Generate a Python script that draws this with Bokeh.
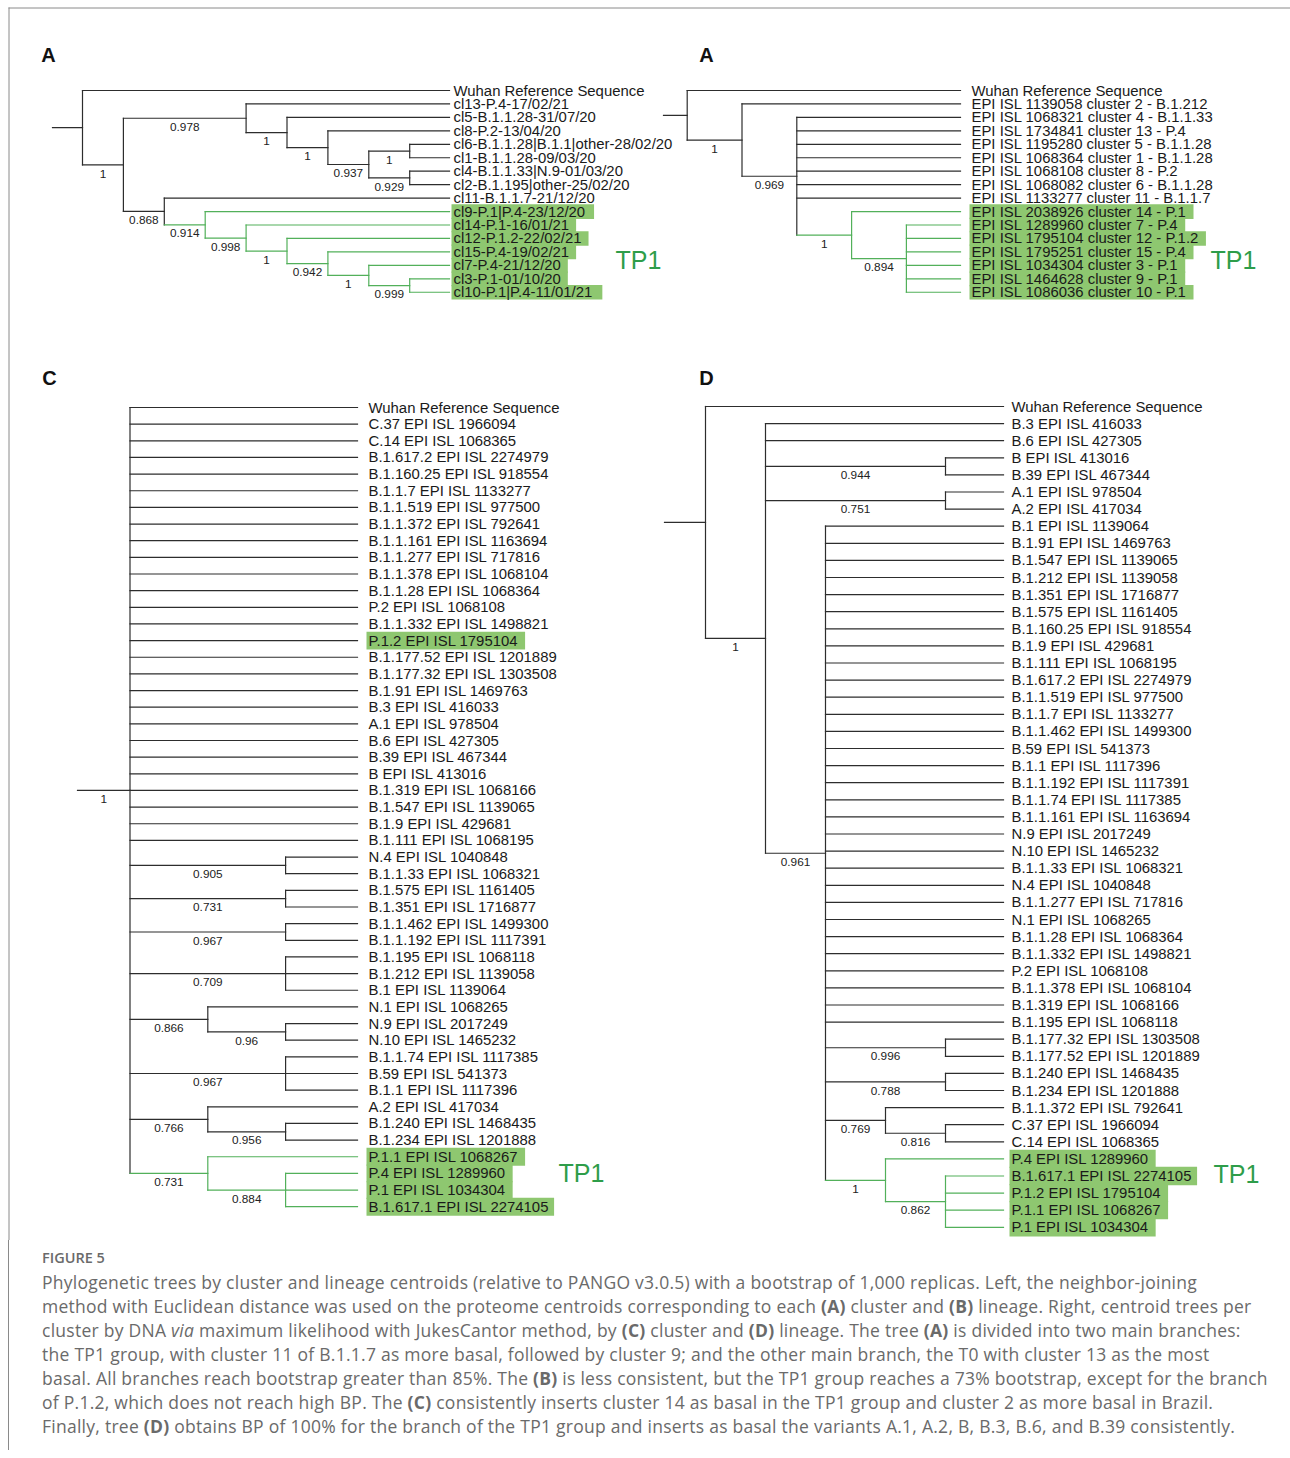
from bokeh.plotting import figure
from bokeh.models import Range1d, Div, ColumnDataSource
from bokeh.layouts import column
from bokeh.core.properties import value
from bokeh.embed import file_html
from bokeh.resources import INLINE

# ---------------------------------------------------------------- data
# Trees as Newick strings (topology + bootstrap support as node labels)
TREE_A = (
    "('Wuhan Reference Sequence',"
    "(('cl13-P.4-17/02/21',('cl5-B.1.1.28-31/07/20',('cl8-P.2-13/04/20',"
    "(('cl6-B.1.1.28|B.1.1|other-28/02/20','cl1-B.1.1.28-09/03/20')1,"
    "('cl4-B.1.1.33|N.9-01/03/20','cl2-B.1.195|other-25/02/20')0.929)0.937)1)1)0.978,"
    "('cl11-B.1.1.7-21/12/20',('cl9-P.1|P.4-23/12/20',('cl14-P.1-16/01/21',"
    "('cl12-P.1.2-22/02/21',('cl15-P.4-19/02/21',('cl7-P.4-21/12/20',"
    "('cl3-P.1-01/10/20','cl10-P.1|P.4-11/01/21')0.999)1)0.942)1)0.998)0.914)0.868)1);"
)
GREEN_A = ["cl9-P.1|P.4-23/12/20", "cl14-P.1-16/01/21", "cl12-P.1.2-22/02/21",
           "cl15-P.4-19/02/21", "cl7-P.4-21/12/20", "cl3-P.1-01/10/20",
           "cl10-P.1|P.4-11/01/21"]
HIGHLIGHT_A = GREEN_A

TREE_B = (
    "('Wuhan Reference Sequence',('EPI ISL 1139058 cluster 2 - B.1.212',"
    "('EPI ISL 1068321 cluster 4 - B.1.1.33','EPI ISL 1734841 cluster 13 - P.4',"
    "'EPI ISL 1195280 cluster 5 - B.1.1.28','EPI ISL 1068364 cluster 1 - B.1.1.28',"
    "'EPI ISL 1068108 cluster 8 - P.2','EPI ISL 1068082 cluster 6 - B.1.1.28',"
    "'EPI ISL 1133277 cluster 11 - B.1.1.7',"
    "('EPI ISL 2038926 cluster 14 - P.1',"
    "('EPI ISL 1289960 cluster 7 - P.4','EPI ISL 1795104 cluster 12 - P.1.2',"
    "'EPI ISL 1795251 cluster 15 - P.4','EPI ISL 1034304 cluster 3 - P.1',"
    "'EPI ISL 1464628 cluster 9 - P.1','EPI ISL 1086036 cluster 10 - P.1')0.894)1)0.969)1);"
)
GREEN_B = ["EPI ISL 2038926 cluster 14 - P.1", "EPI ISL 1289960 cluster 7 - P.4",
           "EPI ISL 1795104 cluster 12 - P.1.2", "EPI ISL 1795251 cluster 15 - P.4",
           "EPI ISL 1034304 cluster 3 - P.1", "EPI ISL 1464628 cluster 9 - P.1",
           "EPI ISL 1086036 cluster 10 - P.1"]
HIGHLIGHT_B = GREEN_B

TREE_C = (
    "('Wuhan Reference Sequence','C.37 EPI ISL 1966094','C.14 EPI ISL 1068365',"
    "'B.1.617.2 EPI ISL 2274979','B.1.160.25 EPI ISL 918554','B.1.1.7 EPI ISL 1133277',"
    "'B.1.1.519 EPI ISL 977500','B.1.1.372 EPI ISL 792641','B.1.1.161 EPI ISL 1163694',"
    "'B.1.1.277 EPI ISL 717816','B.1.1.378 EPI ISL 1068104','B.1.1.28 EPI ISL 1068364',"
    "'P.2 EPI ISL 1068108','B.1.1.332 EPI ISL 1498821','P.1.2 EPI ISL 1795104',"
    "'B.1.177.52 EPI ISL 1201889','B.1.177.32 EPI ISL 1303508','B.1.91 EPI ISL 1469763',"
    "'B.3 EPI ISL 416033','A.1 EPI ISL 978504','B.6 EPI ISL 427305','B.39 EPI ISL 467344',"
    "'B EPI ISL 413016','B.1.319 EPI ISL 1068166','B.1.547 EPI ISL 1139065',"
    "'B.1.9 EPI ISL 429681','B.1.111 EPI ISL 1068195',"
    "('N.4 EPI ISL 1040848','B.1.1.33 EPI ISL 1068321')0.905,"
    "('B.1.575 EPI ISL 1161405','B.1.351 EPI ISL 1716877')0.731,"
    "('B.1.1.462 EPI ISL 1499300','B.1.1.192 EPI ISL 1117391')0.967,"
    "('B.1.195 EPI ISL 1068118','B.1.212 EPI ISL 1139058','B.1 EPI ISL 1139064')0.709,"
    "('N.1 EPI ISL 1068265',('N.9 EPI ISL 2017249','N.10 EPI ISL 1465232')0.96)0.866,"
    "('B.1.1.74 EPI ISL 1117385','B.59 EPI ISL 541373','B.1.1 EPI ISL 1117396')0.967,"
    "('A.2 EPI ISL 417034',('B.1.240 EPI ISL 1468435','B.1.234 EPI ISL 1201888')0.956)0.766,"
    "('P.1.1 EPI ISL 1068267',('P.4 EPI ISL 1289960','P.1 EPI ISL 1034304',"
    "'B.1.617.1 EPI ISL 2274105')0.884)0.731)1;"
)
GREEN_C = ["P.1.1 EPI ISL 1068267", "P.4 EPI ISL 1289960", "P.1 EPI ISL 1034304",
           "B.1.617.1 EPI ISL 2274105"]
HIGHLIGHT_C = ["P.1.2 EPI ISL 1795104"] + GREEN_C

TREE_D = (
    "('Wuhan Reference Sequence',('B.3 EPI ISL 416033','B.6 EPI ISL 427305',"
    "('B EPI ISL 413016','B.39 EPI ISL 467344')0.944,"
    "('A.1 EPI ISL 978504','A.2 EPI ISL 417034')0.751,"
    "('B.1 EPI ISL 1139064','B.1.91 EPI ISL 1469763','B.1.547 EPI ISL 1139065',"
    "'B.1.212 EPI ISL 1139058','B.1.351 EPI ISL 1716877','B.1.575 EPI ISL 1161405',"
    "'B.1.160.25 EPI ISL 918554','B.1.9 EPI ISL 429681','B.1.111 EPI ISL 1068195',"
    "'B.1.617.2 EPI ISL 2274979','B.1.1.519 EPI ISL 977500','B.1.1.7 EPI ISL 1133277',"
    "'B.1.1.462 EPI ISL 1499300','B.59 EPI ISL 541373','B.1.1 EPI ISL 1117396',"
    "'B.1.1.192 EPI ISL 1117391','B.1.1.74 EPI ISL 1117385','B.1.1.161 EPI ISL 1163694',"
    "'N.9 EPI ISL 2017249','N.10 EPI ISL 1465232','B.1.1.33 EPI ISL 1068321',"
    "'N.4 EPI ISL 1040848','B.1.1.277 EPI ISL 717816','N.1 EPI ISL 1068265',"
    "'B.1.1.28 EPI ISL 1068364','B.1.1.332 EPI ISL 1498821','P.2 EPI ISL 1068108',"
    "'B.1.1.378 EPI ISL 1068104','B.1.319 EPI ISL 1068166','B.1.195 EPI ISL 1068118',"
    "('B.1.177.32 EPI ISL 1303508','B.1.177.52 EPI ISL 1201889')0.996,"
    "('B.1.240 EPI ISL 1468435','B.1.234 EPI ISL 1201888')0.788,"
    "('B.1.1.372 EPI ISL 792641',('C.37 EPI ISL 1966094','C.14 EPI ISL 1068365')0.816)0.769,"
    "('P.4 EPI ISL 1289960',('B.1.617.1 EPI ISL 2274105','P.1.2 EPI ISL 1795104',"
    "'P.1.1 EPI ISL 1068267','P.1 EPI ISL 1034304')0.862)1)0.961)1);"
)
GREEN_D = ["P.4 EPI ISL 1289960", "B.1.617.1 EPI ISL 2274105", "P.1.2 EPI ISL 1795104",
           "P.1.1 EPI ISL 1068267", "P.1 EPI ISL 1034304"]
HIGHLIGHT_D = GREEN_D

PANEL_LETTERS = ["A", "A", "C", "D"]
GROUP_LABEL = "TP1"

CAPTION_TITLE = "FIGURE 5"
CAPTION_LINES = [
    "Phylogenetic trees by cluster and lineage centroids (relative to PANGO v3.0.5) with a bootstrap of 1,000 replicas. Left, the neighbor-joining",
    "method with Euclidean distance was used on the proteome centroids corresponding to each <b>(A)</b> cluster and <b>(B)</b> lineage. Right, centroid trees per",
    "cluster by DNA <i>via</i> maximum likelihood with JukesCantor method, by <b>(C)</b> cluster and <b>(D)</b> lineage. The tree <b>(A)</b> is divided into two main branches:",
    "the TP1 group, with cluster 11 of B.1.1.7 as more basal, followed by cluster 9; and the other main branch, the T0 with cluster 13 as the most",
    "basal. All branches reach bootstrap greater than 85%. The <b>(B)</b> is less consistent, but the TP1 group reaches a 73% bootstrap, except for the branch",
    "of P.1.2, which does not reach high BP. The <b>(C)</b> consistently inserts cluster 14 as basal in the TP1 group and cluster 2 as more basal in Brazil.",
    "Finally, tree <b>(D)</b> obtains BP of 100% for the branch of the TP1 group and inserts as basal the variants A.1, A.2, B, B.3, B.6, and B.39 consistently.",
]

# ---------------------------------------------------------------- layout / style
PAGE_W = 1290
FIG_H = 1240
PANELS = [
    dict(tree=TREE_A, green=GREEN_A, hl=HIGHLIGHT_A, letter_xy=(48, 54), stem_x=52, root_x=82,
         step=40.9, tip_x=449, label_x=453, row0=90, dy=13.45, tp1_xy=(615, 259)),
    dict(tree=TREE_B, green=GREEN_B, hl=HIGHLIGHT_B, letter_xy=(706, 54), stem_x=663, root_x=686.7,
         step=54.8, tip_x=960, label_x=971, row0=90, dy=13.45, tp1_xy=(1210, 259)),
    dict(tree=TREE_C, green=GREEN_C, hl=HIGHLIGHT_C, letter_xy=(49, 377), stem_x=77, root_x=129.5,
         step=77.8, tip_x=357, label_x=368, row0=407, dy=16.65, tp1_xy=(558, 1172)),
    dict(tree=TREE_D, green=GREEN_D, hl=HIGHLIGHT_D, letter_xy=(706, 377), stem_x=664, root_x=705,
         step=60.0, tip_x=1003, label_x=1011, row0=406, dy=17.1, tp1_xy=(1213, 1173)),
]
FONT = "Liberation Sans"
LEAF_SIZE = 14.9
BS_SIZE = 11.8
BLACK = "#2d2d2d"
GREEN = "#52b05a"
HL_FILL = "#8ec770"
TP1_COLOR = "#2e9d4a"
FRAME = "#8a8a8a"

# Arial / Liberation Sans advance widths (per 1000 em) for highlight boxes
ADV = {' ': 278, '-': 333, '.': 278, '/': 278, '|': 260, 'A': 667, 'B': 667, 'C': 722,
       'D': 722, 'E': 667, 'I': 278, 'L': 556, 'N': 722, 'P': 667, 'S': 667, 'W': 944,
       'R': 722, 'a': 556, 'c': 500, 'e': 556, 'f': 278, 'h': 556, 'l': 222, 'n': 556,
       'q': 556, 'r': 333, 's': 500, 't': 278, 'u': 556, 'o': 556}


def text_width(s, size):
    return sum(ADV.get(ch, 556) for ch in s) / 1000.0 * size


def parse_newick(s):
    pos = 0

    def skip():
        nonlocal pos
        while pos < len(s) and s[pos] in " \n\t":
            pos += 1

    def read_label():
        nonlocal pos
        skip()
        if pos < len(s) and s[pos] == "'":
            end = s.index("'", pos + 1)
            lab = s[pos + 1:end]
            pos = end + 1
            return lab
        start = pos
        while pos < len(s) and s[pos] not in ",();":
            pos += 1
        return s[start:pos].strip()

    def node():
        nonlocal pos
        skip()
        if s[pos] == "(":
            pos += 1
            kids = [node()]
            skip()
            while s[pos] == ",":
                pos += 1
                kids.append(node())
                skip()
            pos += 1  # ')'
            return {"children": kids, "label": read_label()}
        return {"children": [], "label": read_label()}

    return node()


p = figure(width=PAGE_W, height=FIG_H, x_range=Range1d(0, PAGE_W), y_range=Range1d(FIG_H, 0),
           output_backend="svg", toolbar_location=None, min_border=0,
           x_axis_location=None, y_axis_location=None, outline_line_color=None)
p.grid.visible = False

seg = dict(x0=[], y0=[], x1=[], y1=[], c=[])
bs = dict(x=[], y=[], t=[])
leaf = dict(x=[], y=[], t=[])
hl = dict(l=[], r=[], t=[], b=[])


def add_seg(x0, y0, x1, y1, c):
    seg["x0"].append(x0); seg["y0"].append(y0)
    seg["x1"].append(x1); seg["y1"].append(y1); seg["c"].append(c)


for cfg in PANELS:
    root = parse_newick(cfg["tree"])
    green = set(cfg["green"])
    rows = []

    def height(n):
        if not n["children"]:
            n["h"] = -1
        else:
            n["h"] = 1 + max(height(c) for c in n["children"])
        return n["h"]

    def leaves_of(n):
        if not n["children"]:
            return [n["label"]]
        out = []
        for c in n["children"]:
            out += leaves_of(c)
        return out

    H = height(root)

    def place(n):
        n["green"] = all(l in green for l in leaves_of(n))
        if not n["children"]:
            n["y"] = cfg["row0"] + len(rows) * cfg["dy"]
            n["x"] = cfg["tip_x"]
            rows.append(n)
        else:
            n["x"] = cfg["root_x"] + (H - n["h"]) * cfg["step"]
            for c in n["children"]:
                place(c)
            n["y"] = (n["children"][0]["y"] + n["children"][-1]["y"]) / 2.0

    place(root)

    def draw(n):
        if not n["children"]:
            return
        col = GREEN if n["green"] else BLACK
        add_seg(n["x"], n["children"][0]["y"], n["x"], n["children"][-1]["y"], col)
        for c in n["children"]:
            add_seg(n["x"], c["y"], c["x"], c["y"], GREEN if c["green"] else BLACK)
            if c["children"] and c["label"]:
                bs["x"].append((n["x"] + c["x"]) / 2.0)
                bs["y"].append(c["y"] + 8.7)
                bs["t"].append(c["label"])
            draw(c)

    add_seg(cfg["stem_x"], root["y"], root["x"], root["y"], BLACK)
    if root["label"]:
        bs["x"].append((cfg["stem_x"] + root["x"]) / 2.0)
        bs["y"].append(root["y"] + 8.7)
        bs["t"].append(root["label"])
    draw(root)

    for r in rows:
        leaf["x"].append(cfg["label_x"]); leaf["y"].append(r["y"]); leaf["t"].append(r["label"])
        if r["label"] in cfg["hl"]:
            w = text_width(r["label"], LEAF_SIZE)
            hl["l"].append(cfg["label_x"] - 2); hl["r"].append(cfg["label_x"] + w + 5)
            hl["t"].append(r["y"] - cfg["dy"] / 2.0 - 0.6); hl["b"].append(r["y"] + cfg["dy"] / 2.0 + 0.6)

# frame lines (top and left)
p.segment(x0=[8, 8.5], y0=[7.5, 7], x1=[PAGE_W, 8.5], y1=[7.5, FIG_H], line_color=FRAME, line_width=1)

p.quad(left="l", right="r", top="t", bottom="b", source=ColumnDataSource(hl),
       fill_color=HL_FILL, line_color=None)
p.segment(x0="x0", y0="y0", x1="x1", y1="y1", line_color="c", line_width=1.2,
          line_cap="square", source=ColumnDataSource(seg))
p.text(x="x", y="y", text="t", source=ColumnDataSource(leaf), text_font=value(FONT),
       text_font_size=f"{LEAF_SIZE}px", text_baseline="middle", text_align="left",
       text_color="#1a1a1a")
p.text(x="x", y="y", text="t", source=ColumnDataSource(bs), text_font=value(FONT),
       text_font_size=f"{BS_SIZE}px", text_baseline="middle", text_align="center",
       text_color="#222222")
p.text(x=[c["letter_xy"][0] for c in PANELS], y=[c["letter_xy"][1] for c in PANELS],
       text=PANEL_LETTERS, text_font=value(FONT), text_font_size="20px",
       text_font_style="bold", text_baseline="middle", text_align="center", text_color="#111111")
p.text(x=[c["tp1_xy"][0] for c in PANELS], y=[c["tp1_xy"][1] for c in PANELS],
       text=[GROUP_LABEL] * 4, text_font=value(FONT), text_font_size="25px",
       text_baseline="middle", text_align="left", text_color=TP1_COLOR)

caption_html = (
    '<div style="box-sizing:border-box;margin-left:8px;width:1282px;height:210px;'
    'border-left:1px solid ' + FRAME + ';padding:6px 0 0 33px;'
    'font-family:\'Open Sans\',sans-serif;color:#6a6a6a;white-space:nowrap;">'
    '<div style="font-size:14.5px;font-weight:600;line-height:24px;">' + CAPTION_TITLE + '</div>'
    '<div style="font-size:17.5px;letter-spacing:0.26px;line-height:24px;">'
    + "<br>".join(CAPTION_LINES) + '</div>'
    '</div>'
)
div = Div(text=caption_html, width=PAGE_W, height=210, margin=(0, 0, 0, 0))

layout = column(p, div, spacing=0)
open("out.html", "w").write(file_html(layout, INLINE))
